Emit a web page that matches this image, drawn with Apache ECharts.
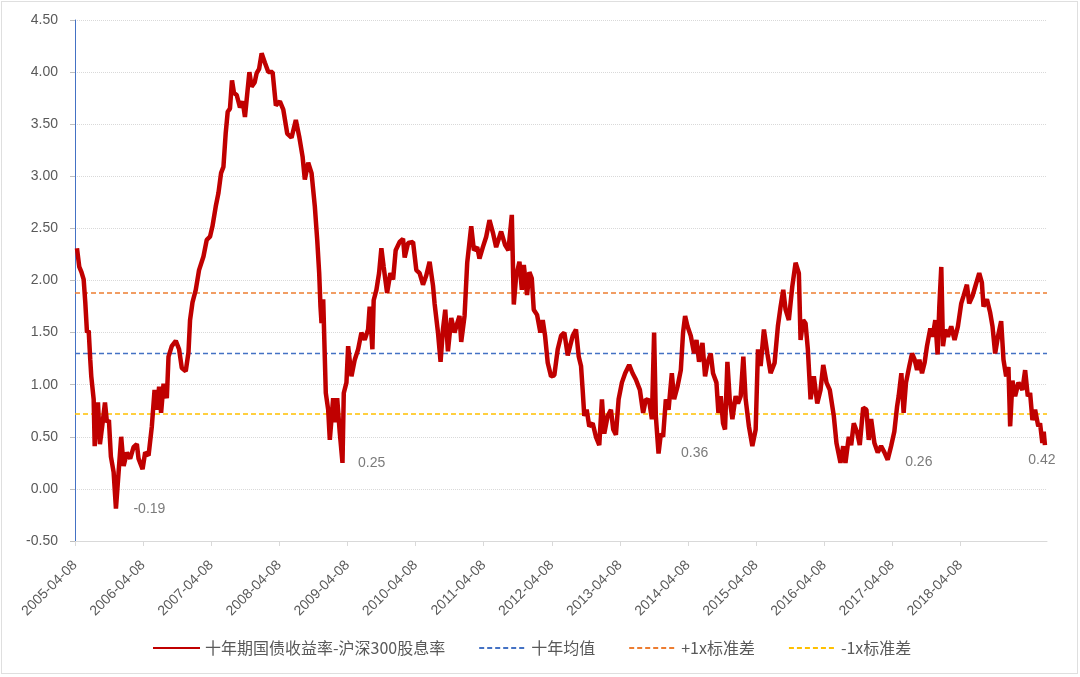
<!DOCTYPE html>
<html>
<head>
<meta charset="utf-8">
<script src="https://cdn.jsdelivr.net/npm/echarts@6/dist/echarts.min.js"></script>
<style>
html,body{margin:0;padding:0;background:#fff;}
#chart{width:1080px;height:677px;}
</style>
</head>
<body>
<div id="chart"></div>
<script>
// Tick labels on the x axis (one per year, starting 2005-04-08)
const tickLabels = ['2005-04-08','2006-04-08','2007-04-08','2008-04-08','2009-04-08','2010-04-08','2011-04-08',
  '2012-04-08','2013-04-08','2014-04-08','2015-04-08','2016-04-08','2017-04-08','2018-04-08'];

// x: years elapsed since 2005-04-08 ; y: spread value
const yrs = [0.029,0.063,0.095,0.127,0.151,0.176,0.201,0.224,0.239,0.274,0.289,0.315,0.337,0.366,0.403,0.440,0.469,0.498,0.527,0.567,
0.601,0.640,0.678,0.714,0.762,0.810,0.860,0.908,0.933,0.992,1.030,1.080,1.128,1.168,1.201,1.235,1.264,1.300,1.348,1.373,
1.421,1.480,1.528,1.568,1.626,1.666,1.689,1.725,1.773,1.821,1.886,1.934,1.982,2.018,2.066,2.106,2.144,2.179,2.212,2.242,
2.275,2.305,2.334,2.374,2.422,2.462,2.495,2.560,2.593,2.637,2.667,2.703,2.740,2.788,2.838,2.901,2.949,3.008,3.058,3.116,
3.179,3.242,3.292,3.341,3.374,3.424,3.473,3.521,3.556,3.585,3.604,3.619,3.644,3.667,3.682,3.717,3.741,3.790,3.824,3.849,
3.887,3.927,3.946,3.985,4.010,4.059,4.107,4.157,4.205,4.253,4.303,4.326,4.366,4.385,4.425,4.464,4.498,4.532,4.582,4.630,
4.670,4.708,4.766,4.816,4.840,4.890,4.963,5.011,5.059,5.109,5.158,5.206,5.256,5.279,5.329,5.367,5.402,5.436,5.475,5.524,
5.572,5.612,5.645,5.670,5.719,5.758,5.817,5.856,5.905,5.938,5.988,6.037,6.085,6.135,6.183,6.256,6.315,6.363,6.413,6.442,
6.476,6.525,6.560,6.589,6.637,6.671,6.706,6.735,6.784,6.832,6.867,6.901,6.940,6.989,7.037,7.087,7.136,7.184,7.234,7.257,
7.307,7.355,7.395,7.429,7.453,7.477,7.512,7.550,7.600,7.648,7.697,7.736,7.770,7.820,7.868,7.902,7.941,7.981,8.029,8.077,
8.136,8.186,8.234,8.293,8.341,8.381,8.429,8.469,8.502,8.527,8.567,8.601,8.634,8.674,8.714,8.762,8.796,8.845,8.894,8.927,
8.957,8.992,9.040,9.089,9.124,9.162,9.212,9.250,9.285,9.333,9.367,9.417,9.446,9.480,9.514,9.543,9.578,9.612,9.651,9.699,
9.733,9.773,9.812,9.846,9.894,9.944,9.993,10.027,10.066,10.114,10.164,10.212,10.271,10.319,10.359,10.398,10.432,10.480,10.530,10.579,
10.627,10.652,10.691,10.725,10.759,10.799,10.847,10.897,10.945,10.985,11.033,11.081,11.140,11.179,11.238,11.278,11.311,11.360,11.395,11.433,
11.483,11.521,11.571,11.619,11.653,11.688,11.736,11.785,11.834,11.883,11.931,11.981,12.029,12.069,12.092,12.132,12.165,12.200,12.249,12.289,
12.327,12.362,12.396,12.435,12.473,12.508,12.557,12.591,12.630,12.664,12.689,12.718,12.743,12.777,12.816,12.864,12.913,12.962,13.011,13.044,
13.094,13.128,13.176,13.216,13.275,13.314,13.338,13.388,13.436,13.470,13.509,13.549,13.597,13.631,13.670,13.704,13.729,13.763,13.802,13.851,
13.909,13.949,13.988,14.022,14.056,14.095,14.142,14.168,14.202,14.222,14.240];
const vals = [2.31,2.13,2.08,2.01,1.79,1.50,1.52,1.24,1.08,0.86,0.41,0.70,0.83,0.43,0.62,0.83,0.64,0.66,0.31,0.16,
-0.19,0.16,0.50,0.22,0.35,0.29,0.40,0.43,0.29,0.19,0.35,0.32,0.60,0.95,0.76,0.98,0.73,1.01,0.87,1.27,
1.37,1.42,1.34,1.16,1.13,1.31,1.62,1.79,1.91,2.10,2.23,2.39,2.42,2.52,2.71,2.84,3.03,3.09,3.41,3.62,
3.65,3.92,3.80,3.78,3.66,3.72,3.57,4.00,3.86,3.90,3.99,4.03,4.18,4.09,4.00,4.00,3.68,3.72,3.64,3.41,
3.37,3.54,3.38,3.19,2.97,3.13,3.03,2.71,2.39,2.07,1.75,1.59,1.82,1.27,0.92,0.76,0.47,0.87,0.64,0.87,
0.54,0.25,0.92,1.02,1.37,1.08,1.24,1.34,1.50,1.43,1.53,1.75,1.34,1.81,1.91,2.07,2.31,2.13,1.88,2.07,
2.01,2.29,2.37,2.40,2.22,2.36,2.37,2.10,2.07,1.96,2.05,2.18,1.95,1.78,1.50,1.22,1.53,1.72,1.32,1.64,
1.50,1.59,1.66,1.41,1.66,2.17,2.52,2.29,2.32,2.21,2.32,2.42,2.58,2.46,2.32,2.47,2.34,2.29,2.63,1.77,
2.04,2.18,1.91,2.15,1.86,2.08,2.02,1.72,1.67,1.50,1.62,1.47,1.21,1.08,1.09,1.34,1.47,1.50,1.28,1.27,
1.47,1.53,1.27,1.18,0.95,0.70,0.76,0.60,0.63,0.50,0.42,0.86,0.53,0.70,0.76,0.57,0.52,0.86,1.02,1.11,
1.19,1.11,1.05,0.95,0.73,0.86,0.85,0.67,1.50,0.70,0.34,0.53,0.50,0.86,0.76,1.11,0.86,0.98,1.14,1.50,
1.66,1.56,1.47,1.30,1.43,1.22,1.40,1.08,1.21,1.30,1.11,1.02,0.73,0.89,0.63,0.57,1.22,0.86,0.67,0.89,
0.82,0.89,1.27,0.86,0.60,0.41,0.57,1.34,1.18,1.53,1.30,1.11,1.21,1.56,1.75,1.91,1.72,1.62,1.94,2.17,
2.07,1.43,1.62,1.59,1.34,0.86,1.08,0.82,0.95,1.19,1.02,0.95,0.70,0.44,0.25,0.41,0.25,0.50,0.42,0.63,
0.54,0.42,0.78,0.76,0.47,0.67,0.44,0.35,0.41,0.35,0.28,0.41,0.55,0.79,0.89,1.11,0.73,1.02,1.18,1.30,
1.24,1.14,1.24,1.11,1.21,1.37,1.54,1.46,1.62,1.29,1.75,2.13,1.37,1.53,1.46,1.56,1.43,1.56,1.78,1.85,
1.96,1.78,1.85,1.94,2.07,1.98,1.75,1.82,1.69,1.56,1.30,1.46,1.61,1.24,1.08,1.17,0.60,1.04,0.89,1.02,
0.95,1.14,0.89,0.92,0.66,0.76,0.60,0.63,0.44,0.55,0.42];

// Reference levels
const meanVal = 1.30;   // 十年均值
const plusStd = 1.88;   // +1x标准差
const minusStd = 0.72;  // -1x标准差
const xMax = 14.27;

// Annotated lows
const lowYrs = [0.601, 3.927, 8.567, 11.931, 14.240];
const lowVals = [-0.19, 0.25, 0.36, 0.26, 0.42];

const seriesNames = ['十年期国债收益率-沪深300股息率','十年均值','+1x标准差','-1x标准差'];

const lineData = yrs.map((t,i)=>[t, vals[i]]);
const flat = v => [[0, v],[xMax, v]];
const tickPositions = tickLabels.map((_,i)=>i);

const labelPos = [
  {position:'right', distance:17},
  {position:'right', distance:15},
  {position:'right', distance:22, offset:[0,2]},
  {position:'right', distance:17},
  {position:'bottom', distance:8, offset:[-3,0]}
];
const lowData = lowYrs.map((t,i)=>({value:[t, lowVals[i]], label:labelPos[i]}));

const chart = echarts.init(document.getElementById('chart'), null, {renderer:'canvas'});
const txt = '#595959';
const fontFam = '"Liberation Sans", "Noto Sans CJK SC", sans-serif';
chart.setOption({
  backgroundColor:'#fff',
  animation:false,
  textStyle:{fontFamily:fontFam},
  graphic:[{type:'rect', shape:{x:1.5,y:1.5,width:1076,height:672}, style:{fill:'none', stroke:'#bfbfbf', lineWidth:1, lineDash:[1,1]}, silent:true}],
  grid:{left:75, right:33, top:20, bottom:136},
  legend:{
    data:seriesNames,
    bottom:16,
    left:147,
    itemWidth:47,
    itemHeight:14,
    itemGap:33,
    itemStyle:{opacity:0},
    textStyle:{color:txt, fontSize:16, fontFamily:'"Noto Sans CJK SC", "Liberation Sans", sans-serif'}
  },
  xAxis:{
    type:'value', min:0, max:xMax, interval:1,
    axisLine:{show:true, onZero:false, lineStyle:{color:'#d9d9d9', width:1}},
    axisTick:{show:true, length:5, lineStyle:{color:'#d9d9d9'}, customValues:tickPositions},
    splitLine:{show:false},
    axisLabel:{
      rotate:45, margin:22, color:txt, fontSize:14, customValues:tickPositions,
      formatter:v => tickLabels[Math.round(v)] || ''
    }
  },
  yAxis:{
    type:'value', min:-0.5, max:4.5, interval:0.5,
    axisLine:{show:true, lineStyle:{color:'#4472C4', width:1}},
    axisTick:{show:true, length:5, lineStyle:{color:'#bfbfbf'}},
    splitLine:{show:true, lineStyle:{color:'#d9d9d9', type:'dotted', width:1}},
    axisLabel:{color:txt, fontSize:14, margin:17, formatter:v=>v.toFixed(2)}
  },
  series:[
    {name:seriesNames[0], type:'line', data:lineData, symbol:'none', z:5,
     lineStyle:{color:'#C00000', width:4.5}, itemStyle:{color:'#C00000'}},
    {name:seriesNames[1], type:'line', data:flat(meanVal), symbol:'none', z:3,
     lineStyle:{color:'#4472C4', width:1.5, type:[5,3]}, itemStyle:{color:'#4472C4'}},
    {name:seriesNames[2], type:'line', data:flat(plusStd), symbol:'none', z:3,
     lineStyle:{color:'#ED7D31', width:1.5, type:[5,3]}, itemStyle:{color:'#ED7D31'}},
    {name:seriesNames[3], type:'line', data:flat(minusStd), symbol:'none', z:3,
     lineStyle:{color:'#FFC000', width:1.5, type:[5,3]}, itemStyle:{color:'#FFC000'}},
    {name:'lows', type:'scatter', data:lowData, symbolSize:1, z:6,
     itemStyle:{color:'rgba(0,0,0,0)'},
     label:{show:true, color:txt, fontSize:14, formatter:p=>p.value[1].toFixed(2)}}
  ]
});
</script>
</body>
</html>
